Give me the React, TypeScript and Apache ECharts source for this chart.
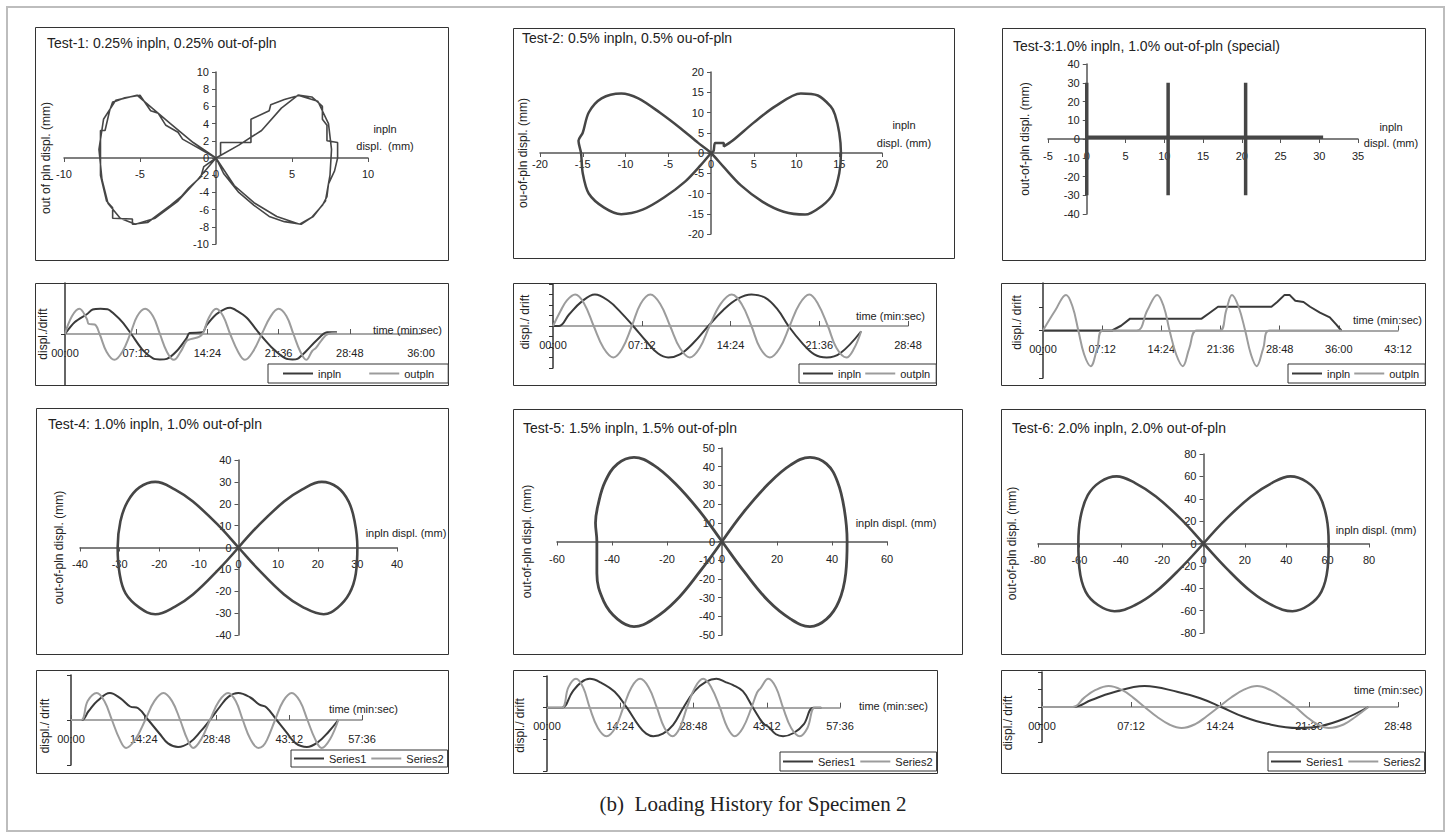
import React, { useEffect, useRef } from "react";
import * as echarts from "echarts";

type Pt = [number, number];

const FONT = '"Liberation Sans", Arial, sans-serif';
const DARK = "#3a3a3a";
const GREY = "#9c9c9c";
const LOOP = "#464646";
const INK = "#222222";

// ---- Orbit plots: in-plane displacement (mm) vs out-of-plane displacement (mm) ----
const test1Loop: Pt[] = [
  [0, 0], [0.3, 0.3], [0.3, 1.8], [2.3, 1.8], [2.3, 4.5], [3.5, 5.5], [3.6, 6.2], [4.5, 6.8], [5.5, 7.3],
  [6.3, 7.1], [6.7, 6.5], [7.0, 6.0], [7.0, 4.5], [7.3, 3.8], [7.3, 2.0], [8.0, 1.8], [8.0, 0], [7.8, -1.5],
  [7.4, -3], [7.3, -4.5], [7.0, -5.5], [6.3, -6.9], [5.6, -7.7], [4.5, -7.4], [3.5, -6.8], [2.5, -5.5],
  [1.5, -4.0], [0.5, -1.8], [0, 0], [-0.5, 0.5], [-1.5, 1.5], [-2.2, 2.2], [-2.5, 3], [-3.3, 3.8],
  [-3.8, 5.2], [-4.3, 5.5], [-5, 7.3], [-6, 7], [-6.6, 6.6], [-6.8, 6.5], [-7.0, 5.5], [-7.3, 3.2],
  [-7.6, 3.2], [-7.6, 0], [-7.6, -2], [-7.2, -5.0], [-6.8, -5.8], [-6.8, -7.0], [-5.5, -7.1], [-5.5, -7.7],
  [-4.5, -7.5], [-3.6, -6.3], [-3, -5.5], [-2.3, -4.5], [-1.8, -3.5], [-1, -2.2], [-0.8, -1], [0, 0],
  [1.5, 1.5], [3, 3.2], [4.3, 5.8], [5.4, 7.3], [6.7, 6.6], [7.4, 4], [7.6, 1], [7.5, -2], [7.2, -5],
  [6.4, -6.8], [5.5, -7.7], [4, -6.8], [2.5, -5.2], [1.2, -3.2], [0, 0], [-1.5, 1.8], [-3, 4], [-4.2, 5.8],
  [-5.2, 7.3], [-6.6, 6.7], [-7.4, 4.5], [-7.7, 1], [-7.5, -2.5], [-7.1, -5.3], [-6.3, -7], [-5.3, -7.7],
  [-4, -7], [-2.5, -5], [-1.2, -2.5], [0, 0],
];

const test2Loop: Pt[] = [
  [0, 0], [0.3, 0.5], [0.5, 2.5], [1.5, 2.5], [1.5, 1.6], [2.5, 3], [5, 7.5], [7.5, 11.5], [10.5, 14.7],
  [12.5, 14.2], [14, 11.5], [14.5, 9.5], [15, 5], [15.2, 0], [15, -5], [14.3, -10], [13, -13], [11, -15.2],
  [8.5, -14.5], [6, -12], [3.5, -8], [1.5, -3.5], [0, 0], [-1.5, 2.5], [-3.5, 6], [-6, 10], [-8.5, 13.5],
  [-10.5, 14.7], [-12.8, 13.5], [-14.3, 10], [-15, 5], [-15.5, 3], [-15.2, 0], [-15, -5], [-14.3, -10],
  [-12.5, -13.5], [-10.5, -15.1], [-8, -14], [-5.5, -11], [-3, -7], [-1.2, -3], [0, 0],
];

const test3Loop: Pt[] = [
  [0, 0], [0, 30], [0, -30], [0, 0], [0, 1], [10.5, 1], [10.5, 30], [10.5, -30], [10.5, 1], [20.5, 1],
  [20.5, 30], [20.5, -30], [20.5, 1], [30.5, 1], [0, 1],
];

const test4Loop: Pt[] = [
  [0, 0], [5, 10], [11.5, 21], [16, 26.5], [21, 30], [25, 27.5], [27.8, 21], [29.3, 12], [30, 0],
  [29.6, -12], [28, -21], [25, -27.5], [21.5, -30.5], [16, -27], [11.5, -21.5], [5, -10], [0, 0],
  [-5, 10], [-11.5, 21], [-16, 26.5], [-21, 30], [-25, 27.5], [-28, 21], [-29.8, 12], [-30.5, 0],
  [-30, -12], [-28.5, -21], [-25, -27.5], [-21, -30.5], [-16, -27], [-11.5, -21.5], [-5, -10], [0, 0],
];

const test5Loop: Pt[] = [
  [0, 0], [8, 16], [17, 31], [25, 41], [32, 45], [38, 41.5], [42, 32], [44.5, 17], [45.5, 0], [45, -17],
  [42.5, -32], [38, -41.5], [32, -45.5], [25, -41.5], [17, -32], [8, -16], [0, 0], [-8, 16], [-17, 31],
  [-25, 41], [-32, 45], [-38, 41.5], [-42.5, 32], [-45, 20], [-46, 10], [-45.5, 0], [-45.5, -17],
  [-43, -32], [-38, -41.5], [-32, -45.5], [-25, -41.5], [-17, -32], [-8, -16], [0, 0],
];

const test6Loop: Pt[] = [
  [0, 0], [11, 22], [23, 42], [33, 54], [42, 60], [50, 55], [56, 43], [59.5, 23], [60.5, 0], [60, -22],
  [57, -43], [51, -55], [43, -60.5], [33, -55], [23, -43], [11, -22], [0, 0], [-11, 22], [-23, 42],
  [-33, 54], [-42, 60], [-50, 55], [-56, 43], [-59.5, 23], [-60.5, 0], [-60, -22], [-57, -43], [-51, -55],
  [-43, -60.5], [-33, -55], [-23, -43], [-11, -22], [0, 0],
];

// ---- Loading histories: time (min) vs displacement ----
const test1Inpln: Pt[] = [
  [0, 0], [1, 3.5], [2.2, 5.8], [2.8, 7.2], [3.6, 7.4], [4.3, 7.3], [5.0, 5.8], [5.8, 3.5], [6.7, 0],
  [7.8, -4.5], [8.9, -7.2], [9.6, -7.5], [10.3, -7.3], [11.3, -5], [12.3, -1.2], [12.6, 0.3], [13.9, 0.5],
  [14.3, 2.5], [15.3, 5.8], [16.2, 7.4], [16.7, 7.7], [17.4, 6.8], [18.4, 4.7], [19.7, 0], [21.1, -4.5],
  [22.3, -7.2], [23, -7.5], [23.5, -7.3], [24.4, -5], [25.4, -2], [26.5, 0.5], [27.5, 0.5],
];
const test1Outpln: Pt[] = [
  [0, 0], [0.7, 5.2], [1.45, 7.4], [2.2, 4.5], [2.4, 3], [3.0, 2.8], [3.5, 0], [4.2, -5.2], [5.0, -7.6],
  [5.8, -5.2], [6.6, 0], [7.3, 5.2], [8.1, 7.4], [8.9, 5.2], [9.6, 0], [10.3, -5.2], [11.0, -7.6],
  [11.7, -5.2], [12.3, -2], [12.7, -1.5], [13.6, -0.8], [14.0, 0.5], [14.5, 4.5], [15.3, 7.4], [16.0, 5.2],
  [16.7, 0], [17.5, -5.2], [18.2, -7.6], [19.0, -5.2], [19.9, 0], [20.8, 5.2], [21.6, 7.4], [22.4, 5.2],
  [23.1, 0], [23.8, -5.2], [24.4, -7.6], [25.0, -5], [25.4, -4], [25.9, -2], [26.6, 0], [27.5, 0.3],
];

const test2Inpln: Pt[] = [
  [0, 0], [0.5, 0], [1.3, 5.5], [2.3, 11.5], [3.4, 15], [4.5, 12], [5.5, 6.5], [6.5, 0], [7.6, -7.5],
  [8.5, -13], [9.35, -15], [10.3, -13.5], [11.4, -8], [12.6, 0], [13.8, 7.5], [15.0, 13], [16.1, 15],
  [17.2, 13.5], [18.2, 8], [19.1, 0], [20.2, -8], [21.2, -13.5], [22.2, -15], [23.3, -13], [25.0, -2.5],
];
const test2Outpln: Pt[] = [
  [0, 0], [0.6, 7], [1.1, 12], [1.8, 15], [2.5, 11], [3.3, 0], [4.1, -10.5], [4.9, -15], [5.6, -11],
  [6.4, 0], [7.1, 10.5], [7.9, 15], [8.7, 10.5], [9.5, 0], [10.3, -10.5], [11.1, -15], [11.9, -10.5],
  [12.7, 0], [13.6, 10.5], [14.5, 15], [15.3, 10.5], [16.1, 0], [16.8, -10.5], [17.6, -15], [18.4, -10.5],
  [19.2, 0], [20.0, 10.5], [20.8, 15], [21.5, 10.5], [22.3, 0], [23.0, -10.5], [23.8, -15], [24.4, -11],
  [25.0, -2.5],
];

const test3Inpln: Pt[] = [
  [0, 0], [8.4, 0], [9.5, 4], [10.6, 10], [19.3, 10], [20.3, 15], [21.3, 20], [27.8, 20], [28.5, 24],
  [29.4, 30], [30.0, 30], [30.7, 25], [31.7, 24], [32.5, 20], [33.7, 15], [34.9, 11], [35.7, 5], [36.3, 0],
];
const test3Outpln: Pt[] = [
  [0, 0], [1.5, 17], [2.8, 30], [3.6, 20], [4.3, 0], [5.0, -20], [5.8, -30], [6.6, -15], [7.3, 0],
  [11.4, 0], [12.7, 17], [13.9, 30], [14.7, 20], [15.4, 0], [16.2, -20], [17.0, -30], [17.8, -15],
  [18.7, 0], [21.5, 0], [22.3, 17], [23.0, 30], [23.8, 20], [24.6, 0], [25.3, -20], [26.0, -30],
  [26.8, -15], [27.6, 0], [36.3, 0],
];

const test4Series1: Pt[] = [
  [0, 0], [2.1, 0], [3.5, 10], [5.2, 21], [7.7, 30], [9.8, 24], [11.7, 15], [13.3, 13], [15.3, 0],
  [17.5, -15], [19.2, -26], [21.2, -30], [23.5, -25], [25.6, -13], [27.5, 0], [29.5, 15], [31.2, 26],
  [33.1, 30], [35.5, 25], [37.3, 17], [38.7, 14], [40.7, 0], [42.7, -14], [44.5, -26], [46.7, -30],
  [48.8, -25], [51, -13], [52.9, 0],
];
const test4Series2: Pt[] = [
  [0, 0], [2.0, 0], [3.3, 21], [5.1, 30], [6.6, 21], [8.1, 0], [9.6, -21], [10.9, -31], [12.8, -21],
  [14.7, 0], [16.5, 21], [18.3, 30], [20, 21], [21.6, 0], [23, -21], [24.2, -31], [25.8, -21], [27.5, 0],
  [29.3, 21], [31.1, 30], [32.6, 21], [34, 0], [35.5, -21], [37.1, -31], [38, -29], [38.8, -22], [40.4, 0],
  [42, 21], [43.7, 30], [45.3, 21], [46.8, 0], [48.3, -21], [49.6, -31], [51.3, -21], [52.9, 0],
];

const test5Series1: Pt[] = [
  [0, 0], [2.9, 0], [5, 25], [6.7, 40], [8.4, 45.5], [10.5, 40], [13.3, 25], [15.7, 0], [18, -28],
  [19.5, -41], [20.9, -45], [22.8, -41], [24.8, -27], [26.8, 0], [29, 26], [31.3, 41], [33.3, 45.5],
  [35.2, 40], [36.5, 36], [38.5, 26], [40.5, 0], [42.5, -25], [43.5, -30], [45, -42], [46.4, -45],
  [48.5, -40], [50.5, -26], [52.3, 0], [53.9, 0],
];
const test5Series2: Pt[] = [
  [0, 0], [2.9, 0], [4.2, 32], [5.7, 45.5], [7.1, 32], [8.4, 0], [10, -32], [11.7, -45], [13.4, -32],
  [15, 0], [16.6, 32], [18.3, 45.5], [20, 32], [21.6, 0], [23.1, -32], [24.7, -45], [26.1, -32], [27.5, 0],
  [29.1, 32], [30.7, 45.5], [32.3, 32], [34, 0], [35.5, -32], [36.9, -45], [38.5, -32], [40.2, 0],
  [41.3, 24], [42, 31], [43.5, 45.5], [45, 32], [46.4, 0], [48, -32], [49.7, -45], [51.2, -32],
  [52.6, 0], [53.9, 0],
];

const test6Series1: Pt[] = [
  [0, 0], [2.5, 0], [4.0, 20], [5.6, 40], [8.3, 60], [11, 43], [12.8, 25], [14.5, 0], [16.3, -28],
  [18.2, -48], [20.7, -60], [22.5, -55], [24.5, -33], [26.4, 0],
];
const test6Series2: Pt[] = [
  [0, 0], [2.5, 0], [3.4, 26], [4.3, 48], [5.4, 60], [6.5, 48], [7.4, 26], [8.3, 0], [9.3, -28],
  [10.3, -50], [11.3, -60], [12.4, -49], [13.3, -27], [14.3, 0], [15.3, 27], [16.3, 49], [17.4, 60],
  [18.5, 48], [19.5, 26], [20.5, 0], [21.4, -28], [22.3, -50], [23.2, -60], [24.4, -50], [25.4, -27],
  [26.4, 0],
];

// ---- Panel layout ----
type LoopPanel = {
  title: string; titleAt: Pt; box: number[]; grid: number[];
  x: number[]; y: number[]; xName: string; xNameAt: Pt; xNameLine: number;
  yName: string; yNameGap: number; labelMargin: number; data: Pt[]; width: number; smooth: boolean | number;
};

const loopPanels: LoopPanel[] = [
  { title: "Test-1: 0.25% inpln, 0.25% out-of-pln", titleAt: [47, 36], box: [35, 27, 413, 233], grid: [64, 72, 304, 172],
    x: [-10, 10, 5], y: [-10, 10, 2], xName: "inpln\ndispl.  (mm)", xNameAt: [385, 137], xNameLine: 17,
    yName: "out of pln displ. (mm)", yNameGap: 164, labelMargin: 10, data: test1Loop, width: 1.6, smooth: false },
  { title: "Test-2: 0.5% inpln, 0.5% ou-of-pln", titleAt: [522, 31], box: [513, 28, 441, 230], grid: [540, 72, 342, 162],
    x: [-20, 20, 5], y: [-20, 20, 5], xName: "inpln\ndispl. (mm)", xNameAt: [904, 134], xNameLine: 18,
    yName: "ou-of-pln displ. (mm)", yNameGap: 182, labelMargin: 5, data: test2Loop, width: 2.5, smooth: 0.3 },
  { title: "Test-3:1.0% inpln, 1.0% out-of-pln (special)", titleAt: [1013, 39], box: [1002, 28, 423, 232], grid: [1048, 64, 310, 150],
    x: [-5, 35, 5], y: [-40, 40, 10], xName: "inpln\ndispl. (mm)", xNameAt: [1391, 135], xNameLine: 16,
    yName: "out-of-pln displ. (mm)", yNameGap: 56, labelMargin: 11, data: test3Loop, width: 3.5, smooth: false },
  { title: "Test-4: 1.0% inpln, 1.0% out-of-pln", titleAt: [48, 417], box: [36, 408, 412, 246], grid: [80, 460, 317, 175],
    x: [-40, 40, 10], y: [-40, 40, 10], xName: "inpln displ. (mm)", xNameAt: [406, 533], xNameLine: 14,
    yName: "out-of-pln displ. (mm)", yNameGap: 174, labelMargin: 11, data: test4Loop, width: 2.6, smooth: 0.4 },
  { title: "Test-5: 1.5% inpln, 1.5% out-of-pln", titleAt: [523, 421], box: [513, 409, 449, 245], grid: [557, 448, 330, 187],
    x: [-60, 60, 20], y: [-50, 50, 10], xName: "inpln displ. (mm)", xNameAt: [896, 523], xNameLine: 14,
    yName: "out-of-pln displ. (mm)", yNameGap: 189, labelMargin: 12, data: test5Loop, width: 2.8, smooth: 0.4 },
  { title: "Test-6: 2.0% inpln, 2.0% out-of-pln", titleAt: [1012, 421], box: [1001, 409, 424, 245], grid: [1038, 454, 331, 179],
    x: [-80, 80, 20], y: [-80, 80, 20], xName: "inpln displ. (mm)", xNameAt: [1376, 530], xNameLine: 14,
    yName: "out-of-pln displ. (mm)", yNameGap: 186, labelMargin: 11, data: test6Loop, width: 2.6, smooth: 0.4 },
];

type TimePanel = {
  box: number[]; grid: number[]; xMax: number; xStep: number; y: number[];
  yName: string; yNameGap: number; yNameShift: number; timeNameAt: Pt;
  legendAt: Pt; legendPad: number[]; legendGap: number; names: string[];
  dark: Pt[]; grey: Pt[]; darkSmooth: boolean | number;
};

const TIME_NAME = "time (min:sec)";

const timePanels: TimePanel[] = [
  { box: [35, 283, 413, 102], grid: [65, 283, 356, 102], xMax: 36, xStep: 7.2, y: [-15, 15, 15],
    yName: "displ./drift", yNameGap: 16, yNameShift: 0, timeNameAt: [442, 330],
    legendAt: [268, 364], legendPad: [4, 14, 4, 15], legendGap: 28, names: ["inpln", "outpln"],
    dark: test1Inpln, grey: test1Outpln, darkSmooth: 0.3 },
  { box: [513, 283, 423, 102], grid: [553, 284, 355, 84], xMax: 28.8, xStep: 7.2, y: [-20, 20, 5],
    yName: "displ./ drift", yNameGap: 22, yNameShift: -4, timeNameAt: [925, 316],
    legendAt: [799, 364], legendPad: [4, 6, 4, 4], legendGap: 4, names: ["inpln", "outpln"],
    dark: test2Inpln, grey: test2Outpln, darkSmooth: 0.4 },
  { box: [1001, 283, 424, 102], grid: [1043, 283, 355, 95], xMax: 43.2, xStep: 7.2, y: [-40, 40, 20],
    yName: "displ./ drift", yNameGap: 20, yNameShift: -8, timeNameAt: [1422, 320],
    legendAt: [1288, 364], legendPad: [4, 6, 4, 4], legendGap: 4, names: ["inpln", "outpln"],
    dark: test3Inpln, grey: test3Outpln, darkSmooth: false },
  { box: [36, 670, 412, 103], grid: [71, 675, 291, 90], xMax: 57.6, xStep: 14.4, y: [-50, 50, 50],
    yName: "displ./ drift", yNameGap: 20, yNameShift: 6, timeNameAt: [398, 709],
    legendAt: [291, 750], legendPad: [3, 4, 3, 3], legendGap: 5, names: ["Series1", "Series2"],
    dark: test4Series1, grey: test4Series2, darkSmooth: 0.4 },
  { box: [513, 670, 424, 103], grid: [547, 676, 293, 95], xMax: 57.6, xStep: 14.4, y: [-100, 50, 50],
    yName: "displ./ drift", yNameGap: 21, yNameShift: 2, timeNameAt: [928, 706],
    legendAt: [780, 752], legendPad: [4, 4, 4, 3], legendGap: 5, names: ["Series1", "Series2"],
    dark: test5Series1, grey: test5Series2, darkSmooth: 0.4 },
  { box: [1001, 670, 424, 103], grid: [1042, 672, 356, 70], xMax: 28.8, xStep: 7.2, y: [-100, 100, 50],
    yName: "displ./ drift", yNameGap: 28, yNameShift: 16, timeNameAt: [1423, 690],
    legendAt: [1268, 752], legendPad: [4, 4, 4, 3], legendGap: 5, names: ["Series1", "Series2"],
    dark: test6Series1, grey: test6Series2, darkSmooth: 0.4 },
];

const CAPTION = "(b)  Loading History for Specimen 2";

const minSec = (v: number) => {
  const s = Math.round(v * 60);
  const m = Math.floor(s / 60);
  const r = s % 60;
  return `${String(m).padStart(2, "0")}:${String(r).padStart(2, "0")}`;
};

// pixel distance from the grid's bottom edge up to the value-0 line
const zeroLift = (height: number, lo: number, hi: number) => height * (-lo / (hi - lo));
// pixel distance from the grid's left edge right to the value-0 line
const zeroShift = (width: number, lo: number, hi: number) => width * (-lo / (hi - lo));

const label = (text: string, at: Pt, align: string, lineHeight = 14) => ({
  type: "text", x: at[0], y: at[1], silent: true, z: 5,
  style: { text, fontFamily: FONT, fontSize: 11, fill: INK, align, verticalAlign: "middle", lineHeight },
});

function buildOption() {
  const grid: any[] = [];
  const xAxis: any[] = [];
  const yAxis: any[] = [];
  const series: any[] = [];
  const title: any[] = [];
  const legend: any[] = [];
  const graphic: any[] = [];

  graphic.push({
    type: "rect", shape: { x: 7, y: 7, width: 1437, height: 824 },
    style: { fill: "none", stroke: "#bdbdbd", lineWidth: 2 }, silent: true,
  });

  loopPanels.forEach((p) => {
    const g = grid.length;
    const [left, top, width, height] = p.grid;
    grid.push({ left, top, width, height, containLabel: false, outerBoundsMode: "none" });
    graphic.push({
      type: "rect", shape: { x: p.box[0] + 0.5, y: p.box[1] + 0.5, width: p.box[2], height: p.box[3] },
      style: { fill: "none", stroke: "#333", lineWidth: 1 }, silent: true,
    });
    graphic.push(label(p.xName, p.xNameAt, "center", p.xNameLine));
    title.push({
      text: p.title, left: p.titleAt[0], top: p.titleAt[1], padding: 0,
      textStyle: { fontFamily: FONT, fontSize: 14, fontWeight: "normal", color: INK },
    });
    xAxis.push({
      gridIndex: g, type: "value", min: p.x[0], max: p.x[1], interval: p.x[2],
      position: "bottom", offset: -zeroLift(height, p.y[0], p.y[1]),
      axisLine: { onZero: false, lineStyle: { color: "#555", width: 1.5 } },
      axisTick: { show: true, length: 4, lineStyle: { color: "#555" } },
      axisLabel: { fontFamily: FONT, fontSize: 11, color: INK, margin: p.labelMargin },
      splitLine: { show: false },
    });
    yAxis.push({
      gridIndex: g, type: "value", min: p.y[0], max: p.y[1], interval: p.y[2],
      position: "left", offset: -zeroShift(width, p.x[0], p.x[1]),
      axisLine: { onZero: false, lineStyle: { color: "#555", width: 1.5 } },
      axisTick: { show: true, length: 4, lineStyle: { color: "#555" } },
      axisLabel: { fontFamily: FONT, fontSize: 11, color: INK, margin: 7 },
      splitLine: { show: false },
      name: p.yName, nameLocation: "middle", nameGap: p.yNameGap, nameRotate: 90,
      nameTextStyle: { fontFamily: FONT, fontSize: 12, color: INK },
    });
    series.push({
      type: "line", name: p.title, xAxisIndex: g, yAxisIndex: g, data: p.data,
      showSymbol: false, symbol: "none", smooth: p.smooth, color: LOOP,
      lineStyle: { color: LOOP, width: p.width }, silent: true,
    });
  });

  timePanels.forEach((p, i) => {
    const g = grid.length;
    const [left, top, width, height] = p.grid;
    grid.push({ left, top, width, height, containLabel: false, outerBoundsMode: "none" });
    graphic.push({
      type: "rect", shape: { x: p.box[0] + 0.5, y: p.box[1] + 0.5, width: p.box[2], height: p.box[3] },
      style: { fill: "none", stroke: "#333", lineWidth: 1 }, silent: true,
    });
    graphic.push(label(TIME_NAME, p.timeNameAt, "right"));
    xAxis.push({
      gridIndex: g, type: "value", min: 0, max: p.xMax, interval: p.xStep,
      position: "bottom", offset: -zeroLift(height, p.y[0], p.y[1]),
      axisLine: { onZero: false, lineStyle: { color: "#8a8a8a", width: 1.5 } },
      axisTick: { show: true, inside: true, length: 5, lineStyle: { color: "#555" } },
      axisLabel: { fontFamily: FONT, fontSize: 11, color: INK, margin: 13, formatter: minSec },
      splitLine: { show: false },
    });
    const shift = p.yNameShift;
    yAxis.push({
      gridIndex: g, type: "value", min: p.y[0], max: p.y[1], interval: p.y[2],
      position: "left",
      axisLine: { onZero: false, lineStyle: { color: "#333", width: 1.5 } },
      axisTick: { show: true, length: 4, lineStyle: { color: "#333" } },
      axisLabel: { show: false },
      splitLine: { show: false },
      name: p.yName, nameLocation: "middle", nameGap: p.yNameGap, nameRotate: 90,
      nameTextStyle: {
        fontFamily: FONT, fontSize: 12, color: INK,
        padding: shift >= 0 ? [0, shift * 2, 0, 0] : [0, 0, 0, -shift * 2],
      },
    });
    series.push({
      type: "line", name: p.names[0], xAxisIndex: g, yAxisIndex: g, data: p.dark,
      showSymbol: false, symbol: "none", smooth: p.darkSmooth, color: DARK,
      lineStyle: { color: DARK, width: 2 }, silent: true,
    });
    series.push({
      type: "line", name: p.names[1], xAxisIndex: g, yAxisIndex: g, data: p.grey,
      showSymbol: false, symbol: "none", smooth: 0.4, color: GREY,
      lineStyle: { color: GREY, width: 2 }, silent: true,
    });
    legend.push({
      show: true, left: p.legendAt[0], top: p.legendAt[1], orient: "horizontal",
      data: p.names, selectedMode: false, icon: "rect", itemWidth: 30, itemHeight: 2,
      itemGap: p.legendGap, padding: p.legendPad, borderColor: "#333", borderWidth: 1,
      backgroundColor: "#fff", textStyle: { fontFamily: FONT, fontSize: 11, color: INK },
      z: 10 + i,
    });
  });

  graphic.push({
    type: "text", x: 753, y: 804, silent: true,
    style: {
      text: CAPTION, fontFamily: '"Liberation Serif", "Times New Roman", serif', fontSize: 21,
      fill: INK, align: "center", verticalAlign: "middle",
    },
  });

  return {
    animation: false,
    backgroundColor: "#fff",
    textStyle: { fontFamily: FONT },
    grid, xAxis, yAxis, series, title, legend, graphic,
  };
}

export default function App() {
  const ref = useRef<HTMLDivElement>(null);
  useEffect(() => {
    if (!ref.current) return;
    const chart = echarts.init(ref.current, undefined, { renderer: "svg" });
    chart.setOption(buildOption() as any);
    return () => chart.dispose();
  }, []);
  return (
    <div
      ref={ref}
      style={{ position: "fixed", left: 0, top: 0, width: 1451, height: 838, background: "#fff" }}
    />
  );
}
